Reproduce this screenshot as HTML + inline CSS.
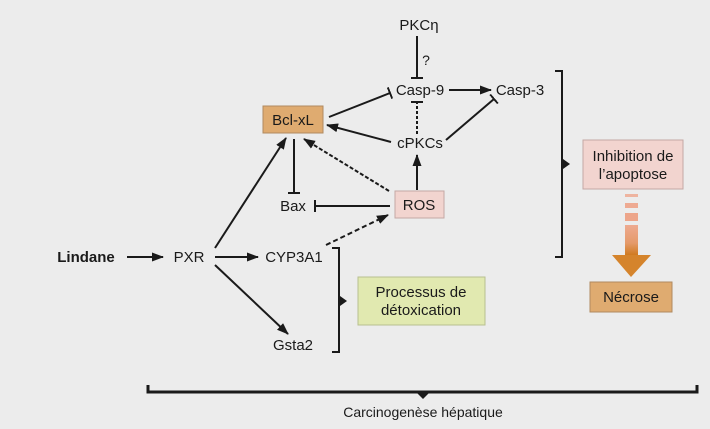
<!DOCTYPE html>
<html><head><meta charset="utf-8"><style>
html,body{margin:0;padding:0;background:#ececec;}
svg{display:block;font-family:"Liberation Sans",Arial,sans-serif;}
</style></head><body>
<svg width="710" height="429" viewBox="0 0 710 429" xmlns="http://www.w3.org/2000/svg">
<defs>
<marker id="ar" markerWidth="12" markerHeight="9" refX="11" refY="4.5" orient="auto" markerUnits="userSpaceOnUse">
<path d="M0,0 L12,4.5 L0,9 Z" fill="#1a1a1a"/></marker>
<marker id="tb" markerWidth="2" markerHeight="12" refX="1" refY="6" orient="auto" markerUnits="userSpaceOnUse">
<rect x="0" y="0" width="2" height="12" fill="#1a1a1a"/></marker>
<linearGradient id="og" x1="0" y1="0" x2="0" y2="1">
<stop offset="0" stop-color="#eeaa90"/><stop offset="0.6" stop-color="#e59a6a"/><stop offset="1" stop-color="#d07a20"/></linearGradient>
</defs>
<rect width="710" height="429" fill="#ececec"/>
<g stroke="#1a1a1a" stroke-width="2" fill="none">
<line x1="417" y1="36" x2="417" y2="78" marker-end="url(#tb)"/>
<line x1="449" y1="90" x2="491" y2="90" marker-end="url(#ar)"/>
<line x1="417" y1="134" x2="417" y2="102" stroke-dasharray="3,2" marker-end="url(#tb)"/>
<line x1="446" y1="140" x2="494" y2="99" marker-end="url(#tb)"/>
<line x1="329" y1="117" x2="390" y2="93" marker-end="url(#tb)"/>
<line x1="391" y1="142" x2="327" y2="125" marker-end="url(#ar)"/>
<line x1="417" y1="190" x2="417" y2="155" marker-end="url(#ar)"/>
<line x1="389" y1="191" x2="304" y2="139" stroke-dasharray="4,2" marker-end="url(#ar)"/>
<line x1="294" y1="139" x2="294" y2="193" marker-end="url(#tb)"/>
<line x1="390" y1="206" x2="315" y2="206" marker-end="url(#tb)"/>
<line x1="127" y1="257" x2="163" y2="257" marker-end="url(#ar)"/>
<line x1="215" y1="257" x2="258" y2="257" marker-end="url(#ar)"/>
<line x1="215" y1="248" x2="286" y2="138" marker-end="url(#ar)"/>
<line x1="215" y1="265" x2="288" y2="334" marker-end="url(#ar)"/>
<line x1="326" y1="245" x2="388" y2="215" stroke-dasharray="5,3" marker-end="url(#ar)"/>
<polyline points="555,71 562,71 562,257 555,257"/>
<polyline points="332,248 339,248 339,352 332,352"/>
<polyline points="148,385 148,392 697,392 697,385" stroke-width="3"/>
</g>
<g fill="#1a1a1a">
<path d="M563,159 L570,164 L563,169 Z"/>
<path d="M340,296 L347,301 L340,306 Z"/>
<path d="M417,393 L423,399 L429,393 Z"/>
</g>
<rect x="263" y="106" width="60" height="27" fill="#dfab70" stroke="#b08a60"/>
<rect x="395" y="191" width="49" height="27" fill="#f2d4cf" stroke="#c4a8a4"/>
<rect x="583" y="140" width="100" height="49" fill="#f2d4cf" stroke="#c4a8a4"/>
<rect x="358" y="277" width="127" height="48" fill="#e1e9b0" stroke="#b8bf90"/>
<rect x="590" y="282" width="82" height="30" fill="#dfab70" stroke="#b08a60"/>
<rect x="625" y="194" width="13" height="3" fill="#eeb4a0"/>
<rect x="625" y="203" width="13" height="5" fill="#eeaa92"/>
<rect x="625" y="213" width="13" height="8" fill="#eda58a"/>
<rect x="625" y="225" width="13" height="30" fill="url(#og)"/>
<path d="M612,255 L651,255 L631,277 Z" fill="#d5842c"/>
<g font-size="15" fill="#1a1a1a" text-anchor="middle">
<text x="293" y="125">Bcl-xL</text>
<text x="419" y="30">PKCη</text>
<text x="426" y="65" font-size="14">?</text>
<text x="420" y="95">Casp-9</text>
<text x="520" y="95">Casp-3</text>
<text x="420" y="148">cPKCs</text>
<text x="419" y="210">ROS</text>
<text x="293" y="211">Bax</text>
<text x="86" y="262" font-weight="bold">Lindane</text>
<text x="189" y="262">PXR</text>
<text x="294" y="262">CYP3A1</text>
<text x="293" y="350">Gsta2</text>
<text x="633" y="161">Inhibition de</text>
<text x="633" y="179">l’apoptose</text>
<text x="421" y="297">Processus de</text>
<text x="421" y="315">détoxication</text>
<text x="631" y="302">Nécrose</text>
<text x="423" y="417" font-size="14">Carcinogenèse hépatique</text>
</g>
</svg>
</body></html>
